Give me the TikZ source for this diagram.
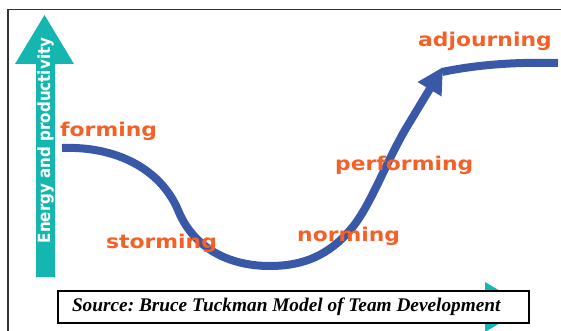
\documentclass[tikz,border=0pt]{standalone}
\usepackage{fontspec}
\usetikzlibrary{arrows.meta}
\newfontfamily\labelfont{DejaVu Sans}
\newfontfamily\sourcefont{Liberation Serif}
\definecolor{stageorange}{RGB}{244,96,38}
\definecolor{waveblue}{RGB}{58,88,168}
\definecolor{axisteal}{RGB}{22,182,176}
\frenchspacing

\begin{document}
\begin{tikzpicture}[x=1pt, y=-1pt]
    \tikzstyle{stage} = [anchor=base west, inner sep=0pt, xscale=1.15, text=stageorange, font=\labelfont\bfseries\fontsize{19}{19}\selectfont]
    \tikzstyle{wave} = [draw=waveblue, line width=8pt]
    \useasboundingbox (0,0) rectangle (561,331);

    % frame
    \draw [line width=1.5pt, black!80] (8,331) -- (8,9.5) -- (561,9.5);

    % axes
    \fill [axisteal] (36,277) -- (36,64) -- (15,64) -- (44.5,15) -- (74,64) -- (55,64) -- (55,277) -- cycle;
    \fill [axisteal] (485,282) -- (527,307) -- (485,332) -- cycle;
    \node [rotate=90, xscale=0.9, inner sep=0pt, text=white, font=\labelfont\bfseries\fontsize{16.8}{17}\selectfont] (energy) at (45.5,140.5) {Energy and productivity};

    % team curve
    \draw [wave, -{Triangle[length=26pt, width=26pt]}] (62,148) .. controls (115,146) and (160,168) .. (178,210)
        .. controls (192,245) and (225,266) .. (270,266)
        .. controls (310,266) and (335,250) .. (355,224)
        .. controls (372,201) and (385,165) .. (405,130) -- (443,67);
    \draw [wave] (442,72) .. controls (480,64) and (520,62) .. (558,63);

    \node [stage] (forming) at (60,137) {forming};
    \node [stage] (storming) at (106,248) {storming};
    \node [stage] (norming) at (297,241) {norming};
    \node [stage] (performing) at (335,170) {performing};
    \node [stage] (adjourning) at (418,47) {adjourning};

    \node [draw, line width=1.2pt, fill=white, text width=443pt, align=flush left, inner xsep=14pt, inner ysep=0pt, minimum height=32pt, font=\sourcefont\bfseries\itshape\fontsize{19.3}{20}\selectfont] (source) at (293.5,307) {Source: Bruce Tuckman Model of Team Development};
\end{tikzpicture}
\end{document}
